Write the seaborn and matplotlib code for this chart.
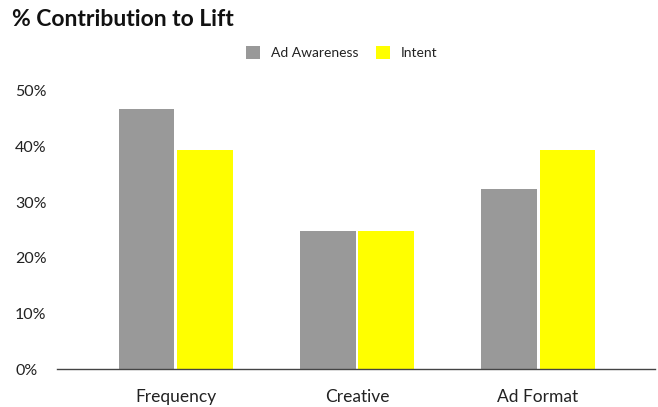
import matplotlib
matplotlib.use("Agg")
import matplotlib.pyplot as plt
import seaborn as sns
import pandas as pd

# Chart data
categories = ["Frequency", "Creative", "Ad Format"]
ad_awareness = [46.8, 24.9, 32.4]
intent = [39.4, 24.9, 39.4]
series_names = ["Ad Awareness", "Intent"]
y_ticks = [0, 10, 20, 30, 40, 50]
y_tick_labels = ["0%", "10%", "20%", "30%", "40%", "50%"]

df = pd.DataFrame({
    "category": categories * 2,
    "value": ad_awareness + intent,
    "series": [series_names[0]] * len(categories) + [series_names[1]] * len(categories),
})

sns.set_style("white")
plt.rcParams["font.family"] = ["Lato", "DejaVu Sans"]

W, H = 658, 407
fig = plt.figure(figsize=(W / 100, H / 100), dpi=100)
ax = fig.add_axes([57 / W, 37.7 / H, (655 - 57) / W, (369.3 - 91) / H])

sns.barplot(
    data=df, x="category", y="value", hue="series",
    palette={"Ad Awareness": "#999999", "Intent": "#FFFF00"},
    saturation=1, width=0.65, gap=0.05, linewidth=0, ax=ax, errorbar=None,
)

ax.set_ylim(0, 50)
ax.set_xlim(-0.657, 2.646)
ax.set_xlabel("")
ax.set_ylabel("")

ax.set_yticks(y_ticks)
ax.set_yticklabels(y_tick_labels, fontsize=11.5, color="#222222", ha="left")
ax.tick_params(axis="y", length=0, pad=30.2)
ax.tick_params(axis="x", length=0, pad=14.5, labelsize=12.5, labelcolor="#222222")

for side in ["top", "right", "left"]:
    ax.spines[side].set_visible(False)
ax.spines["bottom"].set_color("#444444")
ax.spines["bottom"].set_linewidth(1.0)

# Legend above the plot
ax.legend_.remove()
handles, labels = ax.get_legend_handles_labels()
fig.legend(
    handles, labels, loc="center", ncol=2, frameon=False,
    bbox_to_anchor=(341.7 / W, 1 - 52.7 / H), bbox_transform=fig.transFigure,
    fontsize=10, handlelength=1.0, handleheight=1.0,
    handletextpad=0.75, columnspacing=1.3, labelcolor="#222222",
)

fig.text(12 / W, 1 - 20 / H, "% Contribution to Lift", fontsize=16.5,
         fontweight="bold", color="#111111", ha="left", va="center")

fig.savefig("out.png", dpi=100)
